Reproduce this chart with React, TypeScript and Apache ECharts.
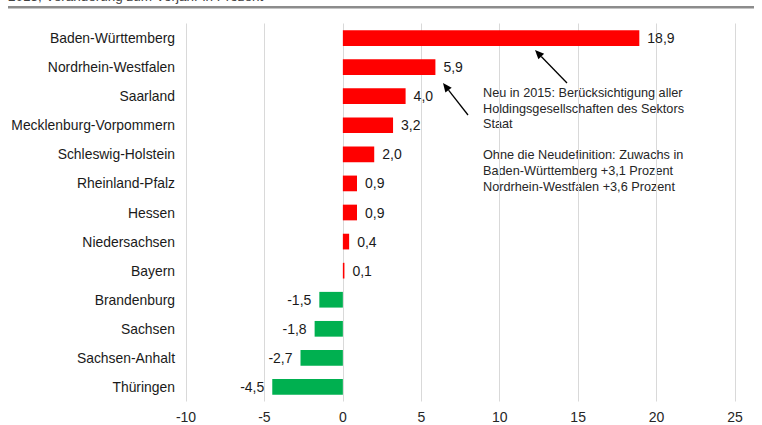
import React, { useEffect, useRef } from "react";
import * as echarts from "echarts";

const categories = [
  "Baden-Württemberg",
  "Nordrhein-Westfalen",
  "Saarland",
  "Mecklenburg-Vorpommern",
  "Schleswig-Holstein",
  "Rheinland-Pfalz",
  "Hessen",
  "Niedersachsen",
  "Bayern",
  "Brandenburg",
  "Sachsen",
  "Sachsen-Anhalt",
  "Thüringen",
];
const values = [18.9, 5.9, 4.0, 3.2, 2.0, 0.9, 0.9, 0.4, 0.1, -1.5, -1.8, -2.7, -4.5];
const xTicks = [-10, -5, 0, 5, 10, 15, 20, 25];
const noteLines = [
  "Neu in 2015: Berücksichtigung aller",
  "Holdingsgesellschaften des Sektors",
  "Staat",
  "",
  "Ohne die Neudefinition: Zuwachs in",
  "Baden-Württemberg +3,1 Prozent",
  "Nordrhein-Westfalen +3,6 Prozent",
];
const titleText = "2015, Veränderung zum Vorjahr in Prozent";

const FONT = "Liberation Sans, Arial, sans-serif";

function arrow(tail: number[], head: number[]) {
  const dx = head[0] - tail[0];
  const dy = head[1] - tail[1];
  const len = Math.sqrt(dx * dx + dy * dy);
  const ux = dx / len;
  const uy = dy / len;
  const L = 9;
  const W = 4;
  const bx = head[0] - L * ux;
  const by = head[1] - L * uy;
  const px = -uy;
  const py = ux;
  return [
    {
      type: "line",
      shape: { x1: tail[0], y1: tail[1], x2: bx, y2: by },
      style: { stroke: "#000", lineWidth: 1.3 },
    },
    {
      type: "polygon",
      shape: {
        points: [
          [head[0], head[1]],
          [bx + W * px, by + W * py],
          [bx - W * px, by - W * py],
        ],
      },
      style: { fill: "#000" },
    },
  ];
}

export default function App() {
  const ref = useRef<HTMLDivElement>(null);
  useEffect(() => {
    if (!ref.current) return;
    const chart = echarts.init(ref.current, null, { renderer: "svg" });
    chart.setOption({
      animation: false,
      backgroundColor: "#fff",
      grid: { left: 186, right: 27, top: 23.5, bottom: 23.5, containLabel: false },
      xAxis: {
        type: "value",
        min: xTicks[0],
        max: xTicks[xTicks.length - 1],
        interval: 5,
        axisLine: { show: false },
        axisTick: { show: false },
        axisLabel: { color: "#262626", fontSize: 14, fontFamily: FONT, margin: 8 },
        splitLine: { show: true, lineStyle: { color: "#d9d9d9", width: 1 } },
      },
      yAxis: {
        type: "category",
        data: categories,
        inverse: true,
        axisLine: { show: false },
        axisTick: { show: false },
        axisLabel: { color: "#1a1a1a", fontSize: 13.9, fontFamily: FONT, margin: 11 },
        splitLine: { show: false },
      },
      series: [
        {
          type: "bar",
          barWidth: "54%",
          data: values.map((v) => ({
            value: v,
            itemStyle: { color: v >= 0 ? "#ff0000" : "#00b050" },
            label: {
              show: true,
              position: v >= 0 ? "right" : "left",
              distance: 8,
              formatter: () => v.toFixed(1).replace(".", ","),
              color: "#1a1a1a",
              fontSize: 14,
              fontFamily: FONT,
            },
          })),
        },
      ],
      graphic: [
        {
          type: "text",
          left: 8,
          top: -11,
          style: { text: titleText, fontSize: 13.5, fontFamily: FONT, fill: "#404040" },
        },
        {
          type: "rect",
          shape: { x: 8, y: 6, width: 746, height: 2.5 },
          style: { fill: "#8c8c8c" },
        },
        ...noteLines.map((t, i) => ({
          type: "text",
          left: 483,
          top: 86.5 + i * 15.6,
          style: { text: t, fontSize: 12.7, fontFamily: FONT, fill: "#262626" },
        })),
        ...arrow([567, 83], [535, 50]),
        ...arrow([468, 115], [443, 83]),
      ],
    });
    return () => chart.dispose();
  }, []);
  return (
    <div
      ref={ref}
      style={{ position: "absolute", left: 0, top: 0, width: 762, height: 425 }}
    />
  );
}
